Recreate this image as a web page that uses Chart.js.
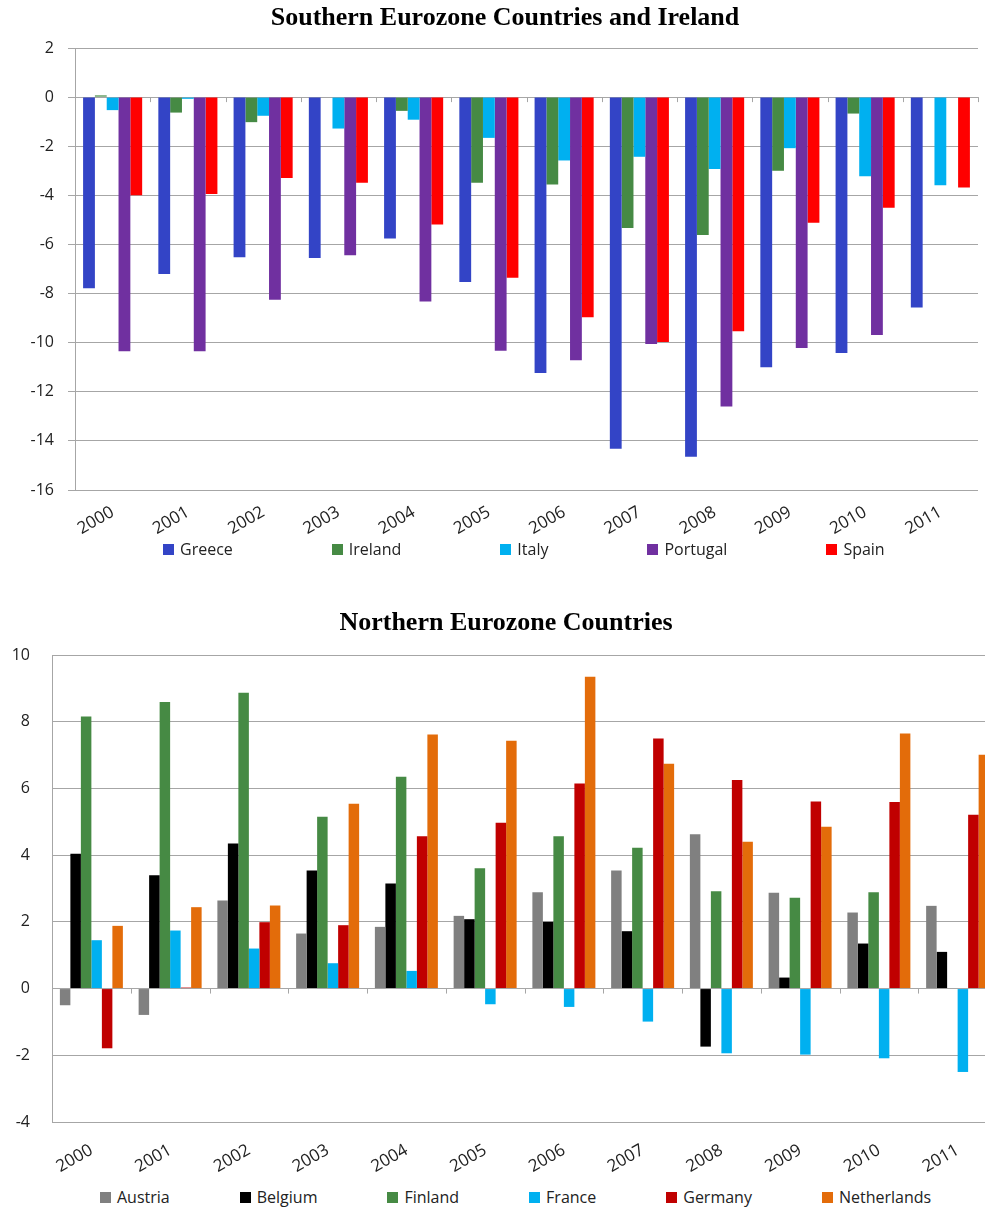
<!DOCTYPE html>
<html>
<head>
<meta charset="utf-8">
<script src="https://cdn.jsdelivr.net/npm/chart.js@4.4.0/dist/chart.umd.min.js"></script>
<style>
  html, body { margin: 0; padding: 0; background: #fff; overflow: hidden; }
  body { width: 985px; height: 1211px; position: relative; }
  canvas { position: absolute; left: 0; }
  #south { top: 0; }
  #north { top: 600px; }
  .legend { position: absolute; display: flex; font: 16px 'Open Sans', sans-serif; color: #222; white-space: nowrap; }
  .legend .item { display: flex; align-items: center; }
  .legend i { display: inline-block; width: 11px; height: 11px; margin-right: 6px; }
  #southLegend { left: 163px; top: 538px; gap: 99px; }
  #northLegend { left: 100px; top: 1186px; gap: 70px; }
</style>
</head>
<body>
<canvas id="south" width="1010" height="540"></canvas>
<div class="legend" id="southLegend"></div>
<canvas id="north" width="1012" height="580"></canvas>
<div class="legend" id="northLegend"></div>
<script>
const years = ['2000', '2001', '2002', '2003', '2004', '2005', '2006', '2007', '2008', '2009', '2010', '2011'];

// southern eurozone + ireland
const greece   = [-7.78, -7.2, -6.52, -6.55, -5.76, -7.53, -11.24, -14.32, -14.65, -11.0, -10.42, -8.57];
const ireland  = [0.07, -0.63, -1.02, null, -0.56, -3.49, -3.56, -5.33, -5.62, -3.0, -0.67, null];
const italy    = [-0.53, -0.07, -0.76, -1.28, -0.92, -1.66, -2.58, -2.43, -2.93, -2.08, -3.22, -3.59];
const portugal = [-10.35, -10.35, -8.25, -6.44, -8.32, -10.33, -10.72, -10.05, -12.6, -10.22, -9.69, null];
const spain    = [-4.0, -3.95, -3.29, -3.49, -5.19, -7.36, -8.97, -9.97, -9.54, -5.12, -4.51, -3.68];
const southTicks = [-16, 2, 2]; // min, max, step

// northern eurozone
const austria     = [-0.5, -0.79, 2.64, 1.65, 1.85, 2.18, 2.89, 3.54, 4.63, 2.87, 2.28, 2.48];
const belgium     = [4.04, 3.4, 4.35, 3.54, 3.15, 2.08, 2.0, 1.72, -1.74, 0.33, 1.35, 1.1];
const finland     = [8.16, 8.59, 8.87, 5.15, 6.35, 3.61, 4.57, 4.22, 2.92, 2.72, 2.89, null];
const france      = [1.45, 1.74, 1.2, 0.76, 0.53, -0.47, -0.55, -0.99, -1.94, -1.98, -2.09, -2.5];
const germany     = [-1.79, 0.03, 1.99, 1.9, 4.57, 4.97, 6.15, 7.5, 6.25, 5.61, 5.59, 5.21];
const netherlands = [1.88, 2.44, 2.49, 5.54, 7.62, 7.43, 9.35, 6.74, 4.4, 4.85, 7.65, 7.01];
const northTicks = [-4, 10, 2];

const GRID = '#a6a6a6';
const TEXT = '#222';

// little tick marks on the zero line between the year groups
const zeroTicks = {
  id: 'zeroTicks',
  beforeDatasetsDraw(chart) {
    const area = chart.chartArea;
    const y0 = chart.scales.y.getPixelForValue(0);
    const n = chart.data.labels.length;
    const step = (area.right - area.left) / n;
    const ctx = chart.ctx;
    ctx.save();
    ctx.strokeStyle = GRID;
    ctx.lineWidth = 1;
    ctx.beginPath();
    for (let i = 0; i <= n; i++) {
      const x = Math.round(area.left + i * step) + 0.5;
      ctx.moveTo(x, y0);
      ctx.lineTo(x, y0 + 5);
    }
    ctx.stroke();
    ctx.restore();
  }
};

function ds(label, data, color) {
  return { label: label, data: data, backgroundColor: color, borderWidth: 0 };
}

function drawChart(id, title, datasets, ticks, o) {
  return new Chart(document.getElementById(id), {
    type: 'bar',
    data: { labels: years, datasets: datasets },
    plugins: [zeroTicks],
    options: {
      responsive: false,
      animation: false,
      devicePixelRatio: 1,
      categoryPercentage: o.catPct,
      barPercentage: 1,
      plugins: {
        legend: { display: false },
        tooltip: { enabled: false },
        title: {
          display: true,
          text: title,
          color: '#000',
          font: { family: 'Liberation Serif', size: 26, weight: 'bold' },
          padding: { top: o.titleTop, bottom: o.titleBottom }
        }
      },
      scales: {
        x: {
          grid: { display: false },
          border: { display: false },
          ticks: {
            minRotation: 30, maxRotation: 30,
            color: TEXT, padding: o.xPad,
            font: { family: 'Open Sans', size: 17 }
          },
          afterFit: function (s) { s.height = o.xHeight; }
        },
        y: {
          min: ticks[0], max: ticks[1],
          grid: { color: GRID, lineWidth: 1, tickLength: o.tickLen, drawTicks: o.tickLen > 0 },
          border: { display: true, color: GRID, width: 1 },
          ticks: {
            stepSize: ticks[2],
            color: TEXT, padding: o.yPad,
            font: { family: 'Open Sans', size: 16 }
          },
          afterFit: function (s) { s.width = o.yWidth; }
        },
        // empty spacer on the right so the title stays centred on the whole canvas
        spacer: {
          type: 'linear',
          position: 'right',
          grid: { display: false },
          border: { display: false },
          ticks: { display: false },
          afterFit: function (s) { s.width = o.padRight; }
        }
      }
    }
  });
}

function buildLegend(id, chart) {
  const el = document.getElementById(id);
  chart.data.datasets.forEach(function (d) {
    const item = document.createElement('span');
    item.className = 'item';
    const sw = document.createElement('i');
    sw.style.background = d.backgroundColor;
    item.appendChild(sw);
    item.appendChild(document.createTextNode(d.label));
    el.appendChild(item);
  });
}

const south = drawChart('south', 'Southern Eurozone Countries and Ireland', [
  ds('Greece', greece, '#3344c6'),
  ds('Ireland', ireland, '#468a44'),
  ds('Italy', italy, '#00b0f0'),
  ds('Portugal', portugal, '#7030a0'),
  ds('Spain', spain, '#ff0000')
], southTicks, { catPct: 0.785, padRight: 32, titleTop: 2.4, titleBottom: 14.4, xHeight: 50, xPad: 4, yWidth: 75, tickLen: 7, yPad: 14 });

const north = drawChart('north', 'Northern Eurozone Countries', [
  ds('Austria', austria, '#808080'),
  ds('Belgium', belgium, '#000000'),
  ds('Finland', finland, '#468a44'),
  ds('France', france, '#00b0f0'),
  ds('Germany', germany, '#c00000'),
  ds('Netherlands', netherlands, '#e36c0a')
], northTicks, { catPct: 0.80, padRight: 15, titleTop: 7.4, titleBottom: 16.4, xHeight: 58, xPad: 10, yWidth: 52, tickLen: 0, yPad: 22 });

buildLegend('southLegend', south);
buildLegend('northLegend', north);
</script>
</body>
</html>
